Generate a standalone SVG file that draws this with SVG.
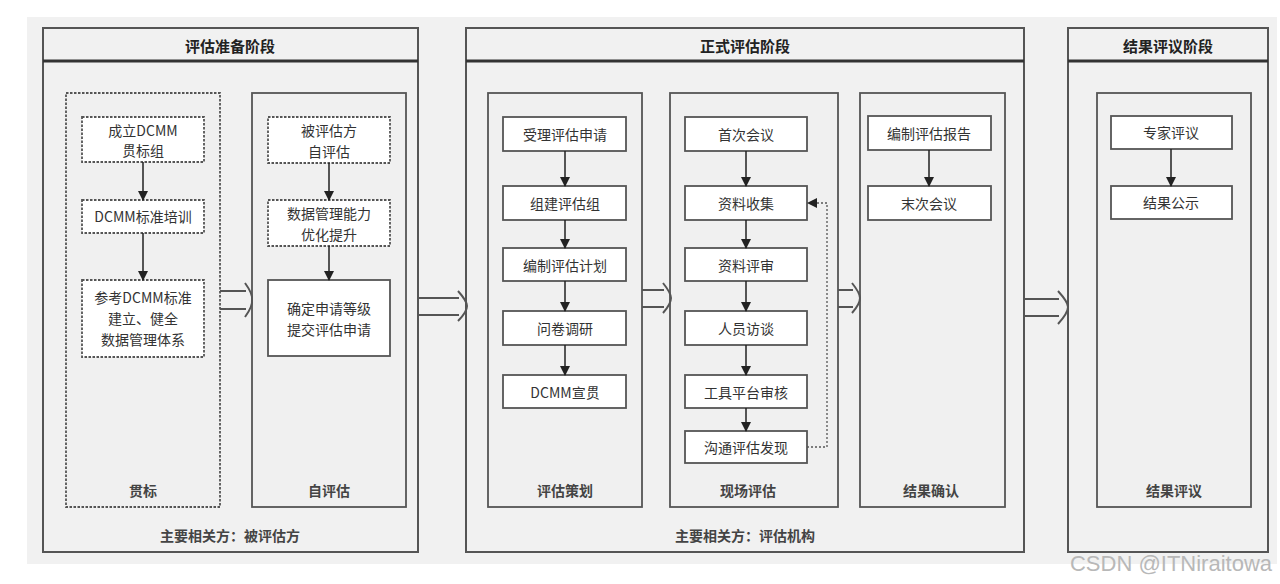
<svg xmlns="http://www.w3.org/2000/svg" width="1280" height="584" viewBox="0 0 1280 584">
<defs>
<marker id="ah" markerWidth="10" markerHeight="10" refX="9" refY="5" orient="auto" markerUnits="userSpaceOnUse">
<path d="M0,0 L10,5 L0,10 Z" fill="#222"/>
</marker>
<style>
text{font-family:"Noto Sans CJK SC","Liberation Sans",sans-serif;fill:#333;text-anchor:middle;dominant-baseline:central}
.title{font-size:15px;font-weight:bold;fill:#222}
.lbl{font-size:14px;font-weight:bold;fill:#444}
.nt{font-size:14px}
.phase{fill:#f1f1f1;stroke:#555;stroke-width:2}
.hdr{stroke:#333;stroke-width:3}
.col{fill:#f0f0f0;stroke:#555;stroke-width:1.8}
.dash{stroke-dasharray:2.5 1.5}
.node{fill:#fff;stroke:#555;stroke-width:1.8}
.edge{stroke:#222;stroke-width:1.5;fill:none;marker-end:url(#ah)}
.fb{stroke:#555;stroke-width:1.3;fill:none;stroke-dasharray:2 2;marker-end:url(#ah)}
.blk{stroke:#555;stroke-width:2;fill:none}
</style>
</defs>
<rect x="0" y="0" width="1280" height="584" fill="#ffffff"/>
<rect x="27" y="17" width="1250" height="547" fill="#f1f1f1"/>

<g id="phase1">
<rect class="phase" x="43" y="28" width="375" height="524"/>
<line class="hdr" x1="43" y1="61" x2="418" y2="61"/>
<text class="title" x="230" y="45">评估准备阶段</text>
<text class="lbl" x="230" y="535">主要相关方：被评估方</text>
</g>
<g id="phase2">
<rect class="phase" x="466" y="28" width="558" height="524"/>
<line class="hdr" x1="466" y1="61" x2="1024" y2="61"/>
<text class="title" x="745" y="45">正式评估阶段</text>
<text class="lbl" x="745" y="535">主要相关方：评估机构</text>
</g>
<g id="phase3">
<rect class="phase" x="1068" y="28" width="200" height="524"/>
<line class="hdr" x1="1068" y1="61" x2="1268" y2="61"/>
<text class="title" x="1168" y="45">结果评议阶段</text>
</g>

<g id="col-guanbiao">
<rect class="col dash" x="66" y="93" width="154" height="414"/>
<text class="lbl" x="143" y="490">贯标</text>
</g>
<g id="col-ziping">
<rect class="col" x="252" y="93" width="154" height="414"/>
<text class="lbl" x="329" y="490">自评估</text>
</g>
<g id="col-cehua">
<rect class="col" x="488" y="93" width="154" height="414"/>
<text class="lbl" x="565" y="490">评估策划</text>
</g>
<g id="col-xianchang">
<rect class="col" x="670" y="93" width="168" height="414"/>
<text class="lbl" x="748" y="490">现场评估</text>
</g>
<g id="col-queren">
<rect class="col" x="860" y="93" width="145" height="414"/>
<text class="lbl" x="931" y="490">结果确认</text>
</g>
<g id="col-pingyi">
<rect class="col" x="1097" y="93" width="154" height="414"/>
<text class="lbl" x="1174" y="490">结果评议</text>
</g>

<g id="n1"><rect class="node dash" x="82" y="117" width="122" height="45"/><text class="nt" x="143" y="130">成立DCMM</text><text class="nt" x="143" y="150">贯标组</text></g>
<g id="n2"><rect class="node dash" x="82" y="200" width="122" height="33"/><text class="nt" x="143" y="216">DCMM标准培训</text></g>
<g id="n3"><rect class="node dash" x="82" y="280" width="122" height="77"/><text class="nt" x="143" y="297">参考DCMM标准</text><text class="nt" x="143" y="318">建立、健全</text><text class="nt" x="143" y="339">数据管理体系</text></g>
<g id="n4"><rect class="node dash" x="268" y="117" width="122" height="46"/><text class="nt" x="329" y="130">被评估方</text><text class="nt" x="329" y="151">自评估</text></g>
<g id="n5"><rect class="node dash" x="268" y="200" width="122" height="46"/><text class="nt" x="329" y="213">数据管理能力</text><text class="nt" x="329" y="234">优化提升</text></g>
<g id="n6"><rect class="node" x="268" y="280" width="122" height="76"/><text class="nt" x="329" y="308">确定申请等级</text><text class="nt" x="329" y="329">提交评估申请</text></g>

<g id="n7"><rect class="node" x="503" y="117" width="123" height="34"/><text class="nt" x="565" y="134">受理评估申请</text></g>
<g id="n8"><rect class="node" x="503" y="186" width="123" height="34"/><text class="nt" x="565" y="203">组建评估组</text></g>
<g id="n9"><rect class="node" x="503" y="248" width="123" height="33"/><text class="nt" x="565" y="265">编制评估计划</text></g>
<g id="n10"><rect class="node" x="503" y="311" width="123" height="34"/><text class="nt" x="565" y="328">问卷调研</text></g>
<g id="n11"><rect class="node" x="503" y="375" width="123" height="33"/><text class="nt" x="565" y="392">DCMM宣贯</text></g>

<g id="n12"><rect class="node" x="685" y="117" width="122" height="34"/><text class="nt" x="746" y="134">首次会议</text></g>
<g id="n13"><rect class="node" x="685" y="186" width="122" height="34"/><text class="nt" x="746" y="203">资料收集</text></g>
<g id="n14"><rect class="node" x="685" y="248" width="122" height="33"/><text class="nt" x="746" y="265">资料评审</text></g>
<g id="n15"><rect class="node" x="685" y="311" width="122" height="34"/><text class="nt" x="746" y="328">人员访谈</text></g>
<g id="n16"><rect class="node" x="685" y="375" width="122" height="33"/><text class="nt" x="746" y="392">工具平台审核</text></g>
<g id="n17"><rect class="node" x="685" y="431" width="122" height="32"/><text class="nt" x="746" y="447">沟通评估发现</text></g>

<g id="n18"><rect class="node" x="868" y="116" width="123" height="34"/><text class="nt" x="929" y="133">编制评估报告</text></g>
<g id="n19"><rect class="node" x="868" y="186" width="123" height="34"/><text class="nt" x="929" y="203">末次会议</text></g>

<g id="n20"><rect class="node" x="1111" y="116" width="121" height="33"/><text class="nt" x="1171" y="132">专家评议</text></g>
<g id="n21"><rect class="node" x="1111" y="186" width="121" height="33"/><text class="nt" x="1171" y="202">结果公示</text></g>

<g id="connectors">
<line class="edge" x1="143" y1="162" x2="143" y2="200"/>
<line class="edge" x1="143" y1="233" x2="143" y2="280"/>
<line class="edge" x1="329" y1="163" x2="329" y2="200"/>
<line class="edge" x1="329" y1="246" x2="329" y2="280"/>
<line class="edge" x1="565" y1="151" x2="565" y2="186"/>
<line class="edge" x1="565" y1="220" x2="565" y2="248"/>
<line class="edge" x1="565" y1="281" x2="565" y2="311"/>
<line class="edge" x1="565" y1="345" x2="565" y2="375"/>
<line class="edge" x1="746" y1="151" x2="746" y2="186"/>
<line class="edge" x1="746" y1="220" x2="746" y2="248"/>
<line class="edge" x1="746" y1="281" x2="746" y2="311"/>
<line class="edge" x1="746" y1="345" x2="746" y2="375"/>
<line class="edge" x1="746" y1="408" x2="746" y2="431"/>
<line class="edge" x1="929" y1="150" x2="929" y2="186"/>
<line class="edge" x1="1171" y1="149" x2="1171" y2="186"/>
<polyline class="fb" points="807,447 827,447 827,203 808,203"/>

<path class="blk" d="M220 291 H246 M220 309 H246 M245 283 Q253 294 252 300 Q253 306 245 317"/>
<path class="blk" d="M418 298 H459 M418 315 H459 M458 291 Q467 301 467 306 Q467 312 458 321"/>
<path class="blk" d="M642 290 H664 M642 307 H664 M663 283 Q671 293 671 298 Q671 304 663 313"/>
<path class="blk" d="M838 290 H853 M838 307 H853 M852 283 Q860 293 860 298 Q860 304 852 313"/>
<path class="blk" d="M1024 299 H1059 M1024 316 H1059 M1058 291 Q1068 302 1068 307 Q1068 313 1058 324"/>
</g>

<text x="1171" y="563" style="font-family:'Liberation Sans',sans-serif;font-size:22px;fill:#b8b8b8;text-anchor:middle;dominant-baseline:central">CSDN @ITNiraitowa</text>
</svg>
